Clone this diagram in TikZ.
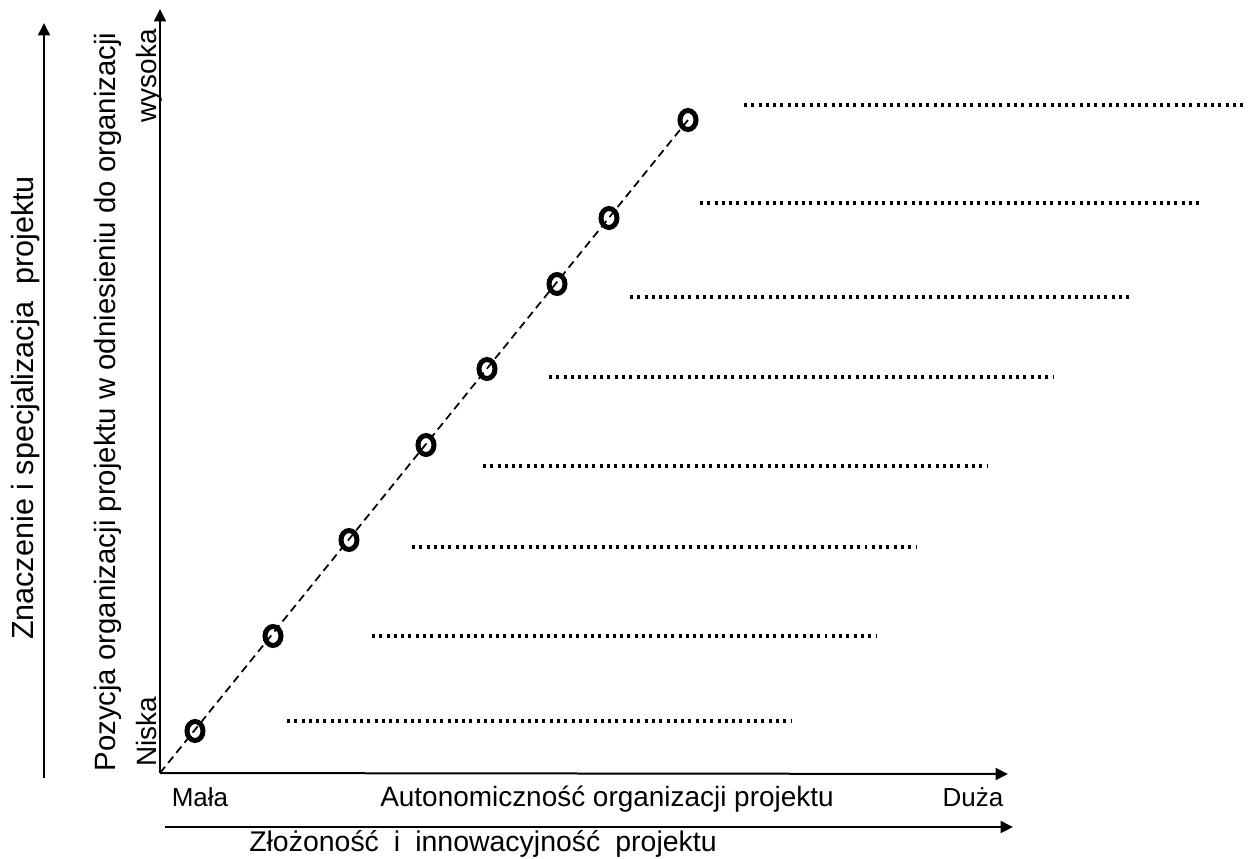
\documentclass[tikz,border=0pt]{standalone}
\usepackage{fontspec}
\setmainfont{Liberation Sans}
\usetikzlibrary{arrows.meta,shapes.geometric}

\begin{document}
\begin{tikzpicture}[x=0.02cm,y=-0.02cm,
  axis/.style={line width=0.04cm,-{Triangle[length=0.25cm,width=0.24cm]}},
  guide/.style={line width=0.065cm,dash pattern=on 0.06cm off 0.086cm},
  trend/.style={line width=0.035cm,dash pattern=on 0.16cm off 0.1cm},
  point/.style={ellipse,draw,line width=0.1cm,minimum width=0.32cm,minimum height=0.38cm,inner sep=0pt},
  lbl/.style={font=\fontsize{15.9pt}{19pt}\selectfont}]

\useasboundingbox (0,0) rectangle (1252,859);

% osie
\coordinate (origin) at (160,773);
\coordinate (ytop) at (160,9);
\coordinate (xend) at (1008,774);
\draw[axis] (origin) -- (ytop);
\draw[axis] (origin) -- (xend);

\coordinate (outerA) at (44,778);
\coordinate (outerB) at (44,23);
\draw[axis] (outerA) -- (outerB);

\coordinate (lowerA) at (165,827);
\coordinate (lowerB) at (1013,827);
\draw[axis] (lowerA) -- (lowerB);

% punkty
\node[point] (p1) at (195,731) {};
\node[point] (p2) at (273,636) {};
\node[point] (p3) at (349,540) {};
\node[point] (p4) at (426,445) {};
\node[point] (p5) at (487,369) {};
\node[point] (p6) at (557,284) {};
\node[point] (p7) at (609,218) {};
\node[point] (p8) at (688,120) {};

\draw[trend] (origin) -- (p8.center);

% linie
\draw[guide] (744,105) -- (1247,105);
\draw[guide] (700,203) -- (1203,203);
\draw[guide] (630,297) -- (1133,297);
\draw[guide] (549,377) -- (1054,377);
\draw[guide] (483,466) -- (988,466);
\draw[guide] (412,547) -- (917,547);
\draw[guide] (372,636) -- (877,636);
\draw[guide] (287,721) -- (792,721);

% opisy
\node[lbl,anchor=base,font=\fontsize{14.8pt}{18pt}\selectfont] (mala) at (200,806)
{Mała};
\node[lbl,anchor=base] (auton) at (607,806)
{Autonomiczność organizacji projektu};
\node[lbl,anchor=base,font=\fontsize{14.8pt}{18pt}\selectfont] (duza) at (973,806)
{Duża};
\node[lbl,anchor=base,font=\fontsize{16.2pt}{19pt}\selectfont] (zloz) at (483,851)
{Złożoność\hspace{0.25em} i\hspace{0.25em} innowacyjność\hspace{0.25em} projektu};

\node[lbl,anchor=base west,rotate=90] (niska) at (156,773)
{Niska};
\node[lbl,anchor=base east,rotate=90] (wys) at (156,23)
{wysoka};
\node[lbl,anchor=base,rotate=90,font=\fontsize{16.7pt}{20pt}\selectfont] (poz) at (115,402)
{Pozycja organizacji projektu w odniesieniu do organizacji};
\node[lbl,anchor=base,rotate=90,font=\fontsize{17.4pt}{21pt}\selectfont] (znacz) at (33,408)
{Znaczenie i specjalizacja\hspace{0.28em} projektu};

\end{tikzpicture}
\end{document}
